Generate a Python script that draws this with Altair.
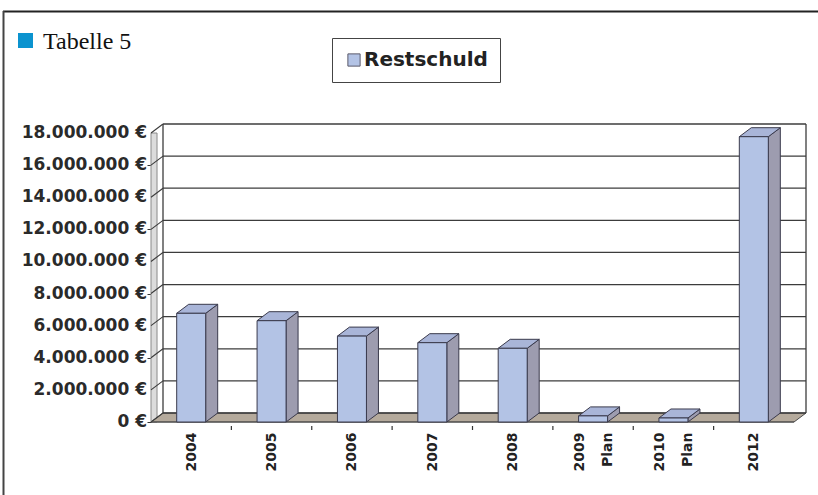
import altair as alt
import pandas as pd

# ---- data -------------------------------------------------------------
categories = ["2004", "2005", "2006", "2007", "2008", "2009 Plan", "2010 Plan", "2012"]
restschuld = [6_770_000, 6_310_000, 5_350_000, 4_940_000, 4_590_000, 380_000, 250_000, 17_770_000]
y_ticks = [0, 2_000_000, 4_000_000, 6_000_000, 8_000_000, 10_000_000,
           12_000_000, 14_000_000, 16_000_000, 18_000_000]
series_name = "Restschuld"
caption = "Tabelle 5"

# ---- geometry (pixels) ------------------------------------------------
PAD_LEFT, PAD_TOP = 151, 114
PLOT_W, PLOT_H = 667, 308
RANGE_W = 643           # pixel width covered by the categories (front edge)
Y_TOP_PX = 19           # where the top tick sits inside the plot area
DEPTH_X_PX, DEPTH_Y_PX = 12, 9
BAR_W_PX = 29
LABEL_LINE_H = 28

FRONT = "#b3c3e5"
SIDE = "#9d9caf"
TOP = "#a9b5d8"
EDGE = "#3a3a4c"
FLOOR = "#b5aa9c"
GRID = "#3c3c3c"
FONT = "DejaVu Sans"

n = len(categories)
ymax = y_ticks[-1]
unit_px = RANGE_W / n
dx = DEPTH_X_PX / unit_px                         # depth offset in x units
dy = DEPTH_Y_PX * ymax / (PLOT_H - Y_TOP_PX)      # depth offset in y units
hw = BAR_W_PX / unit_px / 2

xs = alt.Scale(domain=[0, n], range=[0, RANGE_W], nice=False, zero=False)
ys = alt.Scale(domain=[0, ymax], range=[PLOT_H, Y_TOP_PX], nice=False, zero=False)

# ---- derived tables ---------------------------------------------------
bars = pd.DataFrame({"label": categories, "value": restschuld, "i": range(n)})
bars["series"] = series_name
bars["xl"] = bars["i"] + 0.5 - hw
bars["xr"] = bars["i"] + 0.5 + hw
bars["base"] = 0

side_rows, top_rows = [], []
for rec in bars.to_dict("records"):
    lab, v, xl, xr = rec["label"], rec["value"], rec["xl"], rec["xr"]
    side_rows += [
        {"label": lab, "x": xr, "top": v, "bottom": 0},
        {"label": lab, "x": xr + dx, "top": v + dy, "bottom": dy},
    ]
    top_rows += [
        {"label": lab, "y": v, "xa": xl, "xb": xr},
        {"label": lab, "y": v + dy, "xa": xl + dx, "xb": xr + dx},
    ]
side = pd.DataFrame(side_rows)
topf = pd.DataFrame(top_rows)

floor = pd.DataFrame({"y": [0, dy], "xa": [0, dx], "xb": [n, n + dx]})
grid = pd.DataFrame({"v": y_ticks})
grid["vb"] = grid["v"] + dy
grid["front"] = 0.0
grid["back"] = dx
grid["right"] = n + dx
walls = pd.DataFrame({"x": [dx, n + dx], "y": [dy, dy], "y2": [ymax + dy, ymax + dy]})
edge_df = pd.DataFrame({"x": [0], "x2": [n], "y": [0]})
boundaries = pd.DataFrame({"b": list(range(1, n))})
strip = pd.DataFrame({"x": [0], "x2": [0.075], "y": [0], "y2": [ymax]})

# ---- axes -------------------------------------------------------------
label_js = "[" + ",".join("'" + c + "'" for c in categories) + "]"
two_line_idx = [i for i, c in enumerate(categories) if " " in c]
two_line_test = " || ".join(f"floor(datum.value) == {i}" for i in two_line_idx)

x_axis = alt.Axis(
    values=[i + 0.5 for i in range(n)],
    labelExpr=f"split({label_js}[floor(datum.value)], ' ')",
    labelAngle=270, labelAlign="right", labelBaseline="middle",
    labelPadding=10, labelLineHeight=LABEL_LINE_H, labelFont=FONT, labelFontWeight="bold",
    labelFontSize=14, labelColor="#222", labelOverlap=False, labelFlush=False,
    labelOffset=alt.condition(two_line_test, alt.value(-LABEL_LINE_H / 2), alt.value(0)),
    ticks=False, domain=False, grid=False, title=None,
)
y_axis = alt.Axis(
    values=y_ticks, labels=False,
    tickSize=4, tickColor="#333", domain=False, grid=False, title=None,
)

# ---- layers -----------------------------------------------------------
left_wall = alt.Chart(strip).mark_rect(
    fill="#dcdcdc", stroke="#8a8a8a", strokeWidth=1
).encode(
    x=alt.X("x:Q", scale=xs, axis=x_axis), x2="x2:Q",
    y=alt.Y("y:Q", scale=ys, axis=y_axis), y2="y2:Q",
)

floor_layer = alt.Chart(floor).mark_area(
    orient="horizontal", fill=FLOOR, stroke="#4a4a4a", strokeWidth=1
).encode(
    y=alt.Y("y:Q", scale=ys, stack=None), x=alt.X("xa:Q", scale=xs, stack=None), x2="xb:Q"
)

grid_layer = alt.Chart(grid).mark_rule(color=GRID, strokeWidth=1.3).encode(
    y=alt.Y("vb:Q", scale=ys), x=alt.X("back:Q", scale=xs), x2="right:Q"
)

connectors = alt.Chart(grid).mark_rule(color=GRID, strokeWidth=1.1).encode(
    x=alt.X("front:Q", scale=xs), x2="back:Q",
    y=alt.Y("v:Q", scale=ys), y2="vb:Q",
)

# euro tick labels at the front edge of the left wall
y_labels = alt.Chart(grid).transform_calculate(
    txt="join(split(format(datum.v, ',d'), ','), '.') + ' €'"
).mark_text(
    align="right", baseline="middle", dx=-4, font=FONT, fontWeight="bold",
    fontSize=17, color="#2a2a2a",
).encode(x=alt.X("front:Q", scale=xs), y=alt.Y("v:Q", scale=ys), text="txt:N")

wall_edges = alt.Chart(walls).mark_rule(color=GRID, strokeWidth=1.3).encode(
    x=alt.X("x:Q", scale=xs), y=alt.Y("y:Q", scale=ys), y2="y2:Q"
)

front_edge = alt.Chart(edge_df).mark_rule(color="#4a4a4a", strokeWidth=1).encode(
    x=alt.X("x:Q", scale=xs), x2="x2:Q", y=alt.Y("y:Q", scale=ys)
)

x_ticks = alt.Chart(boundaries).mark_rule(color="#333", strokeWidth=1.2).encode(
    x=alt.X("b:Q", scale=xs), y=alt.value(PLOT_H + 4), y2=alt.value(PLOT_H + 8)
)

side_layer = alt.Chart(side).mark_area(
    orient="vertical", fill=SIDE, stroke=EDGE, strokeWidth=1
).encode(
    x=alt.X("x:Q", scale=xs), y=alt.Y("top:Q", scale=ys, stack=None), y2="bottom:Q",
    detail="label:N",
)

top_layer = alt.Chart(topf).mark_area(
    orient="horizontal", fill=TOP, stroke=EDGE, strokeWidth=1
).encode(
    y=alt.Y("y:Q", scale=ys, stack=None), x=alt.X("xa:Q", scale=xs, stack=None), x2="xb:Q",
    detail="label:N",
)

front_layer = alt.Chart(bars).mark_rect(stroke=EDGE, strokeWidth=1).encode(
    x=alt.X("xl:Q", scale=xs), x2="xr:Q",
    y=alt.Y("base:Q", scale=ys), y2="value:Q",
    color=alt.Color(
        "series:N",
        scale=alt.Scale(domain=[series_name], range=[FRONT]),
        legend=alt.Legend(
            title=None, orient="none", legendX=181, legendY=-76,
            strokeColor="#444", fillColor="white", padding=12,
            symbolType="square", symbolSize=150, symbolStrokeColor="#5a5a6a",
            symbolStrokeWidth=1, labelFont=FONT, labelFontWeight="bold",
            labelFontSize=20, labelColor="#222", labelOffset=0,
        ),
    ),
)

# caption block and page frame above the chart
cap_df = pd.DataFrame({"t": [caption]})
cap_square = alt.Chart(cap_df).mark_rect(color="#0b93cf").encode(
    x=alt.value(18 - PAD_LEFT), x2=alt.value(33 - PAD_LEFT),
    y=alt.value(33 - PAD_TOP), y2=alt.value(48 - PAD_TOP),
)
cap_text = alt.Chart(cap_df).mark_text(
    font="Liberation Serif", fontSize=24, align="left", baseline="alphabetic", color="#111"
).encode(x=alt.value(43 - PAD_LEFT), y=alt.value(49 - PAD_TOP), text="t:N")

frame_top = alt.Chart(cap_df).mark_rule(color="#222", strokeWidth=2).encode(
    x=alt.value(3 - PAD_LEFT), x2=alt.value(PLOT_W),
    y=alt.value(11.5 - PAD_TOP),
)
frame_left = alt.Chart(cap_df).mark_rule(color="#444", strokeWidth=2).encode(
    x=alt.value(3.5 - PAD_LEFT), y=alt.value(11 - PAD_TOP), y2=alt.value(495 - PAD_TOP)
)

chart = alt.layer(
    left_wall, floor_layer, grid_layer, connectors, y_labels, wall_edges, front_edge, x_ticks,
    side_layer, top_layer, front_layer,
    cap_square, cap_text, frame_top, frame_left,
).properties(
    width=PLOT_W, height=PLOT_H,
    autosize=alt.AutoSizeParams(type="none"),
    padding={"left": PAD_LEFT, "top": PAD_TOP, "right": 0, "bottom": 495 - PAD_TOP - PLOT_H},
    background="white",
).configure_view(stroke=None).configure_axis(labelOverlap=False)

chart.save("out.html", embed_options={"renderer": "svg", "actions": False})
